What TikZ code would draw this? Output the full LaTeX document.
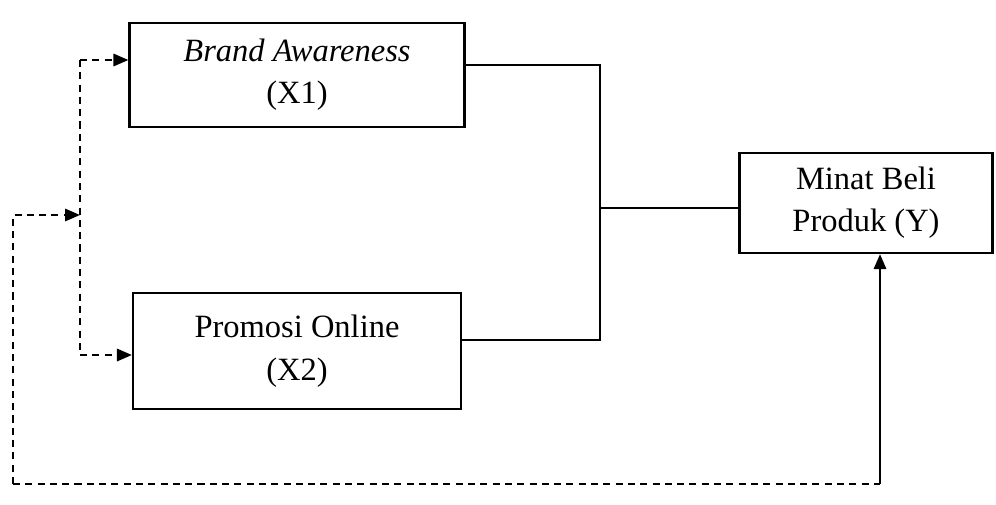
\documentclass[tikz,border=0pt]{standalone}
\usepackage{fontspec}
\setmainfont{Liberation Serif}
\usetikzlibrary{arrows.meta, positioning}

\begin{document}
\begin{tikzpicture}[x=0.02cm, y=-0.02cm, line width=1.3pt, >={Triangle[length=8.5pt, width=7pt]},
	varbox/.style={draw, align=center, font=\fontsize{18.5}{24}\selectfont},
	dashline/.style={dash pattern=on 4pt off 3pt}]
			\useasboundingbox (0,0) rectangle (996,504);
			
			\node[varbox, minimum width=6.7cm, minimum height=2.08cm] (x1) at (297,75) {\textit{Brand Awareness}\\(X1)};
			\node[varbox, minimum width=6.56cm, minimum height=2.32cm] (x2) [below = 3.28cm of x1.south, anchor=north] {Promosi Online\\(X2)};
			\node[varbox, minimum width=5.06cm, minimum height=2cm] (y) at (866,203) {Minat Beli\\Produk (Y)};
			
			\coordinate (j1) at (600,65);
			\coordinate (j2) at (600,340);
			\coordinate (jm) at (600,208);
			
			\coordinate (d1) at (80,60);
			\coordinate (d2) at (80,355);
			\coordinate (d3) at (80,215);
			\coordinate (s1) at (13,215);
			\coordinate (s2) at (13,484);
			\coordinate (s3) at (880,484);
			
			\draw (x1.east |- j1) -- (j1) -- (j2) -- (x2.east |- j2);
			\draw (jm) -- (y.west |- jm);
			
			\draw[dashline] (d1) -- (d2);
			\draw[dashline, ->] (d1) -- (x1.west |- d1);
			\draw[dashline, ->] (d2) -- (x2.west |- d2);
			\draw[dashline, ->] (s2) -- (s1) -- (d3);
			\draw[dashline] (s2) -- (s3);
			\draw[->] (s3) -- (y.south -| s3);
\end{tikzpicture}
\end{document}
